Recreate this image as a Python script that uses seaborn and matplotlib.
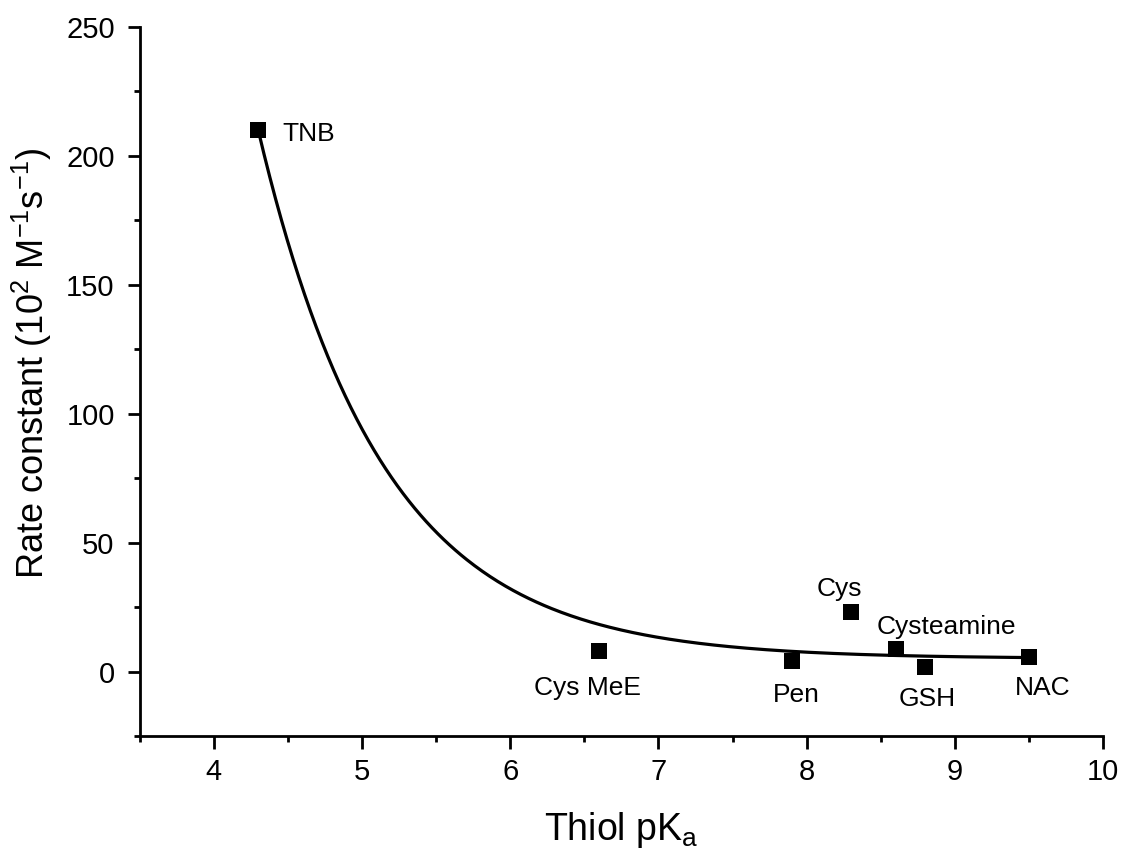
import numpy as np
import pandas as pd
import matplotlib
matplotlib.use("Agg")
import matplotlib.pyplot as plt
from matplotlib.ticker import MultipleLocator
import seaborn as sns

# ---- data ----
thiols = ["TNB", "Cys MeE", "Pen", "Cys", "Cysteamine", "GSH", "NAC"]
pka = [4.3, 6.6, 7.9, 8.3, 8.6, 8.8, 9.5]
rate = [210.0, 8.0, 4.1, 23.0, 8.8, 1.7, 5.6]

# exponential-decay fit (y = y0 + A*exp(-(x - x0)/t))
fit_y0 = 5.0
fit_A = 205.0
fit_x0 = 4.3
fit_t = 0.84
fit_range = (4.3, 9.5)

x_ticks = [4, 5, 6, 7, 8, 9, 10]
y_ticks = [0, 50, 100, 150, 200, 250]

# label offsets in pixels (dx, dy, ha)
label_offsets = {
    "TNB": (24, -11, "left"),
    "Cys MeE": (-12, -44, "center"),
    "Pen": (5, -41, "center"),
    "Cys": (-12, 16, "center"),
    "Cysteamine": (51, 15, "center"),
    "GSH": (2, -39, "center"),
    "NAC": (14, -38, "center"),
}

sns.set_theme(style="ticks")
plt.rcParams["font.family"] = ["Liberation Sans", "DejaVu Sans"]
plt.rcParams["mathtext.fontset"] = "custom"
plt.rcParams["mathtext.rm"] = "Liberation Sans"
plt.rcParams["mathtext.it"] = "Liberation Sans:italic"
plt.rcParams["mathtext.bf"] = "Liberation Sans:bold"

df = pd.DataFrame({"thiol": thiols, "pKa": pka, "rate": rate})

xf = np.linspace(fit_range[0], fit_range[1], 400)
fit_df = pd.DataFrame({"x": xf, "y": fit_y0 + fit_A * np.exp(-(xf - fit_x0) / fit_t)})

fig = plt.figure(figsize=(11.28, 8.56), dpi=100)
ax = fig.add_axes([0.1238, 0.1402, 0.8541, 0.8283])

sns.lineplot(data=fit_df, x="x", y="y", ax=ax, color="black", linewidth=2.3, zorder=2)
sns.scatterplot(data=df, x="pKa", y="rate", ax=ax, marker="s", color="black",
                s=125, linewidth=0, zorder=3)

for name, xv, yv in zip(thiols, pka, rate):
    dx, dy, ha = label_offsets[name]
    ax.annotate(name, (xv, yv), xytext=(dx, dy), textcoords="offset pixels",
                ha=ha, va="baseline", fontsize=19, color="black")

ax.set_xlim(3.5, 10)
ax.set_ylim(-25, 250)
ax.set_xticks(x_ticks)
ax.set_yticks(y_ticks)
ax.xaxis.set_minor_locator(MultipleLocator(0.5))
ax.yaxis.set_minor_locator(MultipleLocator(25))

for s in ["top", "right"]:
    ax.spines[s].set_visible(False)
for s in ["left", "bottom"]:
    ax.spines[s].set_linewidth(2)
    ax.spines[s].set_color("black")

ax.tick_params(which="major", length=9, width=2, color="black", labelsize=21,
               labelcolor="black", pad=7, direction="out")
ax.tick_params(axis="y", which="major", pad=9)
ax.tick_params(which="minor", length=4, width=2, color="black", direction="out")

ax.set_xlabel("Thiol pK$_\\mathregular{a}$", fontsize=27, labelpad=17, color="black")
ax.set_ylabel("Rate constant (10$^\\mathregular{2}$ M$^\\mathregular{-1}$s$^\\mathregular{-1}$)",
              fontsize=26, labelpad=9, color="black")
ax.yaxis.label.set_y(0.526)
ax.grid(False)

fig.savefig("out.png", dpi=100, facecolor="white")
